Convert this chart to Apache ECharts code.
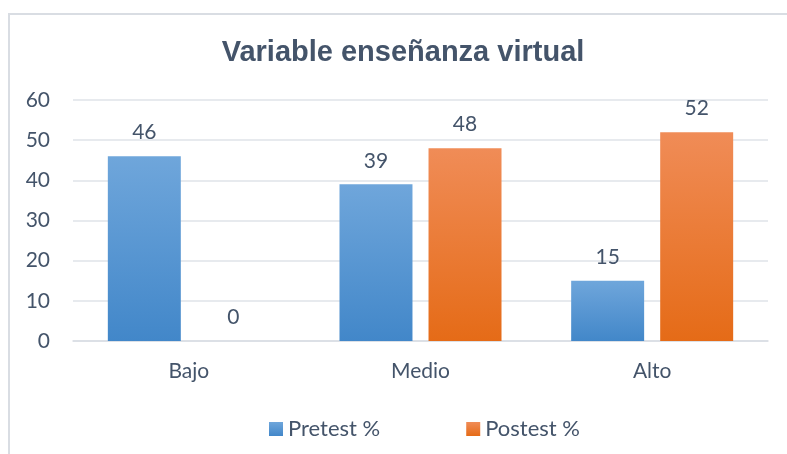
<!DOCTYPE html>
<html>
<head>
<meta charset="utf-8">
<script src="https://cdn.jsdelivr.net/npm/echarts@6/dist/echarts.min.js"></script>
<style>
html, body { margin: 0; padding: 0; background: #fff; }
#main { width: 787px; height: 454px; }
</style>
</head>
<body>
<div id="main"></div>
<script>
var categorias = ['Bajo', 'Medio', 'Alto'];
var pretest = [46, 39, 15];
var postest = [0, 48, 52];
var ticksY = [0, 10, 20, 30, 40, 50, 60];

var textColor = '#44546a';
var fuente = 'Lato, "Noto Sans", sans-serif';

var dom = document.getElementById('main');
var myChart = echarts.init(dom);

function degradado(arriba, abajo) {
	return new echarts.graphic.LinearGradient(0, 0, 0, 1, [
		{ offset: 0, color: arriba },
		{ offset: 1, color: abajo }
	]);
}

var option = {
	animation: false,
	graphic: [{
		type: 'rect',
		shape: { x: 9, y: 14, width: 820, height: 470 },
		style: { fill: 'none', stroke: '#d9dde3', lineWidth: 2 }
	}],
	title: {
		text: 'Variable enseñanza virtual',
		left: 398,
		textAlign: 'center',
		top: 33,
		textStyle: {
			fontFamily: '"Liberation Sans", Arial, sans-serif',
			fontSize: 29,
			fontWeight: 'bold',
			color: textColor
		}
	},
	legend: {
		left: 264,
		top: 413,
		itemWidth: 14,
		itemHeight: 14,
		itemGap: 86,
		icon: 'rect',
		textStyle: { fontFamily: fuente, fontSize: 22, color: textColor },
		data: ['Pretest %', 'Postest %']
	},
	grid: {
		left: 73,
		right: 19,
		top: 100,
		bottom: 113,
		containLabel: false
	},
	xAxis: {
		type: 'category',
		data: categorias,
		axisTick: { show: false },
		axisLine: { lineStyle: { color: '#d9dde3', width: 1.5 } },
		axisLabel: { fontFamily: fuente, fontSize: 21, color: textColor, margin: 20 }
	},
	yAxis: {
		type: 'value',
		min: ticksY[0],
		max: ticksY[ticksY.length - 1],
		interval: 10,
		axisLine: { show: false },
		axisTick: { show: false },
		splitLine: { lineStyle: { color: '#dfe3e8', width: 1.5 } },
		axisLabel: { fontFamily: fuente, fontSize: 21, color: textColor, margin: 23 }
	},
	series: [{
		name: 'Pretest %',
		type: 'bar',
		data: pretest,
		barWidth: '31.5%',
		barGap: '22%',
		itemStyle: { color: degradado('#6fa6db', '#4287c9') },
		label: { show: true, position: 'top', distance: 13, fontFamily: fuente, fontSize: 21, color: textColor }
	}, {
		name: 'Postest %',
		type: 'bar',
		data: postest,
		barWidth: '31.5%',
		itemStyle: { color: degradado('#f08c57', '#e56b17') },
		label: { show: true, position: 'top', distance: 13, fontFamily: fuente, fontSize: 21, color: textColor }
	}]
};

if (option && typeof option === 'object') {
	myChart.setOption(option, true);
}
</script>
</body>
</html>
